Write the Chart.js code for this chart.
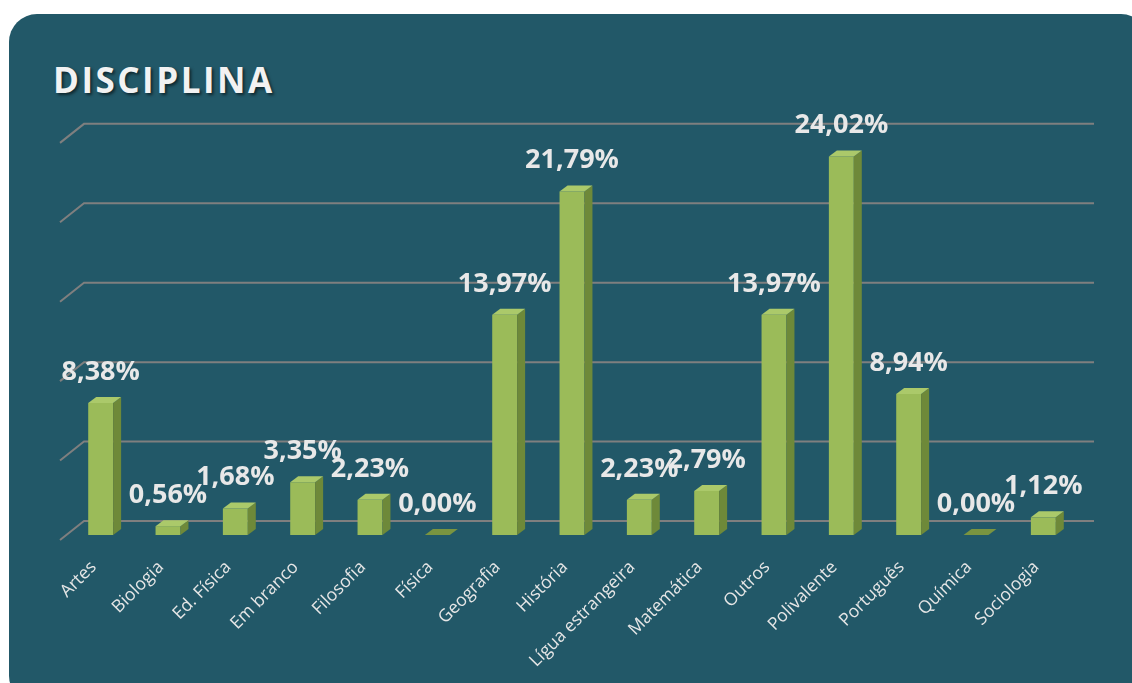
<!DOCTYPE html>
<html>
<head>
<meta charset="utf-8">
<script src="https://cdn.jsdelivr.net/npm/chart.js@4/dist/chart.umd.min.js"></script>
<style>
  html, body { margin: 0; padding: 0; background: #fff; overflow: hidden; }
  #panel { position: absolute; left: 9px; top: 14px; width: 1140px; height: 690px;
           background: #225868; border-radius: 28px; }
  #title { position: absolute; left: 53px; top: 62px; font: 700 35px "Open Sans", sans-serif;
           line-height: 1; letter-spacing: 2.5px; color: #f2f2f2;
           text-shadow: 2px 2px 3px rgba(0, 0, 0, 0.55); }
  #myChart { position: absolute; left: 0; top: 0; }
</style>
</head>
<body>
<div id="panel"></div>
<div id="title">DISCIPLINA</div>
<canvas id="myChart" width="1132" height="683"></canvas>
<script>
const categories = ['Artes', 'Biologia', 'Ed. Física', 'Em branco', 'Filosofia', 'Física', 'Geografia',
    'História', 'Lígua estrangeira', 'Matemática', 'Outros', 'Polivalente', 'Português', 'Química', 'Sociologia'];
const percentValues = [8.38, 0.56, 1.68, 3.35, 2.23, 0.00, 13.97, 21.79, 2.23, 2.79, 13.97, 24.02, 8.94, 0.00, 1.12];
const gridValues = [0, 5, 10, 15, 20, 25];

// walls + gridlines in fake 3D
const wallPlugin = {
    id: 'wall',
    beforeDatasetsDraw(chart) {
        const ctx = chart.ctx, y = chart.scales.y, area = chart.chartArea;
        const p0 = y.getPixelForValue(0);
        ctx.save();
        ctx.strokeStyle = '#7f7f7f';
        ctx.lineWidth = 2;
        gridValues.forEach(v => {
            const back = (y.getPixelForValue(v) - p0) * 1.008 + p0 - 14;
            ctx.beginPath();
            ctx.moveTo(area.left - 7, back + 19);
            ctx.lineTo(area.left + 17, back);
            ctx.lineTo(area.right + 17, back);
            ctx.stroke();
        });
        ctx.restore();
    }
};

// side + top faces of the bars, and the value labels
const bar3dPlugin = {
    id: 'bar3d',
    afterDatasetsDraw(chart) {
        const ctx = chart.ctx;
        const meta = chart.getDatasetMeta(0);
        const dx = 8, dy = -6;
        ctx.save();
        meta.data.forEach((bar, i) => {
            const l = bar.x - bar.width / 2, r = bar.x + bar.width / 2;
            const top = bar.y, base = bar.base;
            const flat = percentValues[i] === 0;
            if (!flat) {
                // side
                ctx.fillStyle = '#6e8939';
                ctx.beginPath();
                ctx.moveTo(r, top);
                ctx.lineTo(r + dx, top + dy);
                ctx.lineTo(r + dx, base + dy);
                ctx.lineTo(r, base);
                ctx.closePath();
                ctx.fill();
            }
            // top
            ctx.fillStyle = flat ? '#7a9440' : '#abc96a';
            ctx.beginPath();
            ctx.moveTo(l, top);
            ctx.lineTo(l + dx, top + dy);
            ctx.lineTo(r + dx, top + dy);
            ctx.lineTo(r, top);
            ctx.closePath();
            ctx.fill();
        });
        ctx.fillStyle = '#e8e8e8';
        ctx.font = '700 27px "Open Sans", sans-serif';
        ctx.textAlign = 'center';
        ctx.textBaseline = 'middle';
        meta.data.forEach((bar, i) => {
            const txt = percentValues[i].toFixed(2).replace('.', ',') + '%';
            ctx.fillText(txt, bar.x, bar.y - 31);
        });
        ctx.restore();
    }
};

const ctx = document.getElementById('myChart').getContext('2d');
const myChart = new Chart(ctx, {
    type: 'bar',
    data: {
        labels: categories,
        datasets: [{
            label: 'Disciplina',
            data: percentValues,
            backgroundColor: (c) => {
                const area = c.chart.chartArea;
                const el = c.element;
                if (!area || !el || el.x === undefined) return '#9bbb59';
                const g = c.chart.ctx.createLinearGradient(el.x - el.width / 2, 0, el.x + el.width / 2, 0);
                g.addColorStop(0, '#8eac4d');
                g.addColorStop(0.45, '#a6c463');
                g.addColorStop(0.85, '#98b857');
                g.addColorStop(1, '#89a64a');
                return g;
            },
            borderWidth: 0,
            barPercentage: 0.37,
            categoryPercentage: 1
        }]
    },
    options: {
        responsive: false,
        animation: false,
        layout: { padding: { left: 67, right: 55, top: 141, bottom: 0 } },
        plugins: { legend: { display: false }, title: { display: false }, tooltip: { enabled: false } },
        scales: {
            x: {
                grid: { display: false, drawTicks: false },
                border: { display: false },
                ticks: {
                    color: '#e6e6e6',
                    font: { family: 'Open Sans', size: 17.5 },
                    minRotation: 45,
                    maxRotation: 45,
                    autoSkip: false,
                    padding: 22,
                    labelOffset: -7
                },
                afterFit(scale) { scale.height = 148; }
            },
            y: {
                display: false,
                min: 0,
                max: 25
            }
        }
    },
    plugins: [wallPlugin, bar3dPlugin]
});
</script>
</body>
</html>
